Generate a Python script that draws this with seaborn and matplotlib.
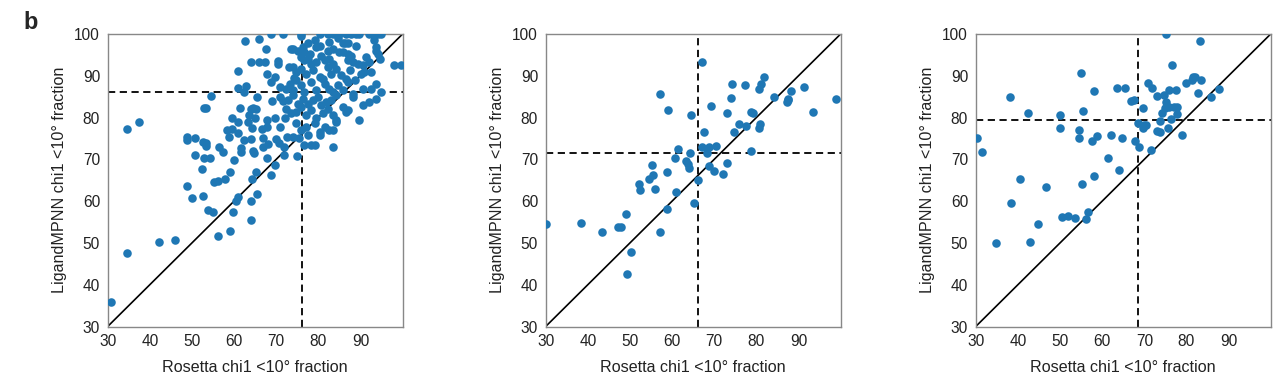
import matplotlib
matplotlib.use("Agg")
import matplotlib.pyplot as plt
import seaborn as sns

# panel 1 (many structures)
rosetta_a = [
    30.7, 34.5, 34.7, 37.5, 42.1, 46.0, 48.9, 48.8, 48.9, 50.0, 50.8, 50.8, 52.3, 52.6, 52.8, 53.3,
    52.7, 53.4, 53.4, 52.9, 54.4, 53.8, 55.1, 54.5, 55.3, 56.2, 56.2, 56.4, 57.4, 57.8, 58.2, 58.7,
    59.1, 59.0, 59.5, 59.6, 60.0, 59.7, 60.5, 61.0, 60.9, 61.0, 60.9, 61.0, 61.5, 61.7, 61.7, 62.3,
    62.9, 62.5, 63.6, 63.9, 64.0, 63.9, 64.2, 64.1, 64.2, 64.6, 64.8, 65.1, 65.5, 65.1, 65.4, 64.1,
    65.8, 67.3, 65.8, 67.5, 66.6, 66.8, 66.8, 67.7, 67.8, 68.1, 67.8, 67.9, 68.7, 68.8, 68.8, 69.6,
    69.7, 69.8, 69.1, 70.0, 70.4, 70.5, 70.6, 70.9, 71.6, 71.6, 71.8, 71.8, 72.1, 72.5, 73.0, 73.6,
    74.1, 74.9, 75.8, 76.3, 62.4, 64.6, 63.3, 65.0,
    75.9, 80.3, 82.2, 83.4, 85.0, 86.6, 87.8, 89.0, 89.7, 92.1, 92.9, 94.1, 94.9,
    77.5, 79.1, 80.3, 82.6, 84.6, 85.8, 86.2, 87.0, 89.0, 93.3, 93.7,
    74.0, 75.1, 76.7, 77.9, 79.5, 80.7, 82.2, 83.4, 85.0, 85.8, 87.0, 87.8, 91.3, 93.7, 94.1,
    75.9, 76.7, 77.5, 78.3, 79.5, 81.5, 82.6, 83.4, 87.0, 88.2, 89.4, 90.5, 92.1, 94.5, 98.0, 99.6,
    74.0, 74.8, 75.9, 77.1, 78.7, 80.3, 81.1, 82.2, 83.0, 84.2, 85.4, 86.6, 87.4, 88.6, 90.1, 90.9, 92.5,
    70.8, 72.2, 73.2, 74.0, 74.8, 75.9, 76.7, 78.3, 79.5, 81.5, 82.6, 83.4, 84.6, 85.8, 87.0, 88.2,
    90.5, 92.5, 93.7, 94.9,
    70.8, 72.8, 74.0, 75.1, 76.3, 77.5, 78.7, 79.9, 80.7, 81.9, 83.0, 84.2, 85.8, 87.0, 88.2, 90.5,
    92.1, 93.7,
    72.4, 73.6, 74.8, 75.9, 77.1, 78.3, 79.5, 81.1, 82.2, 83.4, 84.2, 86.6, 89.7,
    74.8, 75.9, 77.1, 79.1, 80.3, 81.5, 82.6, 83.4, 84.2,
    74.0, 75.5, 76.7, 77.5, 78.3, 79.1, 80.3, 83.4,
]
ligand_a = [
    35.9, 47.7, 77.3, 79.0, 50.1, 50.6, 63.7, 74.6, 75.3, 60.8, 75.0, 71.0, 67.7, 61.3, 82.3, 82.3,
    74.2, 73.8, 73.3, 70.3, 70.3, 57.9, 57.4, 85.2, 64.6, 64.8, 51.7, 73.0, 71.7, 65.3, 77.0, 75.4,
    66.9, 52.8, 77.2, 79.9, 69.8, 57.5, 60.1, 61.0, 91.1, 76.4, 87.1, 79.0, 82.2, 72.7, 71.7, 74.7,
    87.5, 98.4, 80.6, 82.1, 60.0, 55.6, 77.5, 74.9, 65.3, 72.0, 71.6, 66.9, 61.7, 82.1, 84.9, 93.3,
    93.3, 93.3, 98.8, 96.4, 77.3, 75.0, 73.0, 70.2, 90.5, 73.7, 79.4, 77.8, 66.3, 100.0, 88.5, 89.8,
    68.7, 79.8, 84.0, 74.8, 92.9, 93.5, 74.0, 77.8, 100.0, 84.0, 73.0, 71.1, 79.8, 75.4, 92.0, 96.4,
    89.4, 70.9, 99.6, 96.8, 86.0, 82.3, 78.9, 79.8,
    100.0, 100.0, 100.0, 100.0, 100.0, 100.0, 100.0, 100.0, 100.0, 100.0, 100.0, 100.0, 100.0,
    97.8, 98.6, 97.2, 98.0, 99.0, 97.8, 97.8, 97.8, 97.2, 98.6, 96.8,
    96.4, 96.0, 95.6, 95.2, 96.8, 94.8, 96.0, 96.4, 95.6, 95.6, 95.2, 94.8, 94.4, 96.0, 95.2,
    94.4, 93.7, 94.0, 92.9, 93.3, 93.7, 94.0, 92.9, 93.7, 93.3, 92.9, 92.5, 93.3, 94.0, 92.5, 92.5,
    92.1, 90.9, 91.7, 90.5, 91.3, 89.7, 89.3, 92.1, 90.5, 91.7, 90.1, 89.3, 91.3, 88.9, 90.5, 90.9, 90.9,
    87.3, 86.9, 88.1, 86.5, 88.9, 87.7, 86.1, 88.5, 86.5, 88.1, 86.9, 86.1, 87.7, 86.5, 88.5, 85.7,
    86.9, 86.9, 88.1, 86.1,
    84.9, 84.1, 85.3, 83.3, 84.5, 83.3, 84.1, 84.9, 82.9, 83.7, 84.1, 85.3, 82.5, 81.7, 84.9, 82.9,
    83.7, 84.5,
    82.1, 81.0, 81.3, 82.5, 80.6, 81.7, 79.8, 81.0, 82.1, 80.6, 79.4, 81.3, 79.4,
    78.6, 77.0, 77.8, 78.6, 76.6, 77.8, 77.0, 77.0, 79.0,
    75.4, 75.0, 73.4, 75.8, 73.4, 73.4, 75.8, 73.0,
]

# panel 2
rosetta_b = [
    30.0, 38.3, 43.3, 47.2, 47.9, 49.1, 49.2, 50.2, 52.2, 52.5, 54.6, 55.3, 55.5, 55.9, 57.1, 57.2,
    58.8, 58.8, 59.1, 60.7, 60.9, 61.3, 63.3, 63.8, 64.0, 64.2, 64.5, 65.3, 66.1, 67.2, 67.2, 67.6,
    68.3, 68.7, 68.8, 69.3, 70.0, 70.3, 72.1, 73.0, 73.1, 74.0, 74.3, 74.7, 75.9, 77.4, 77.6, 78.8,
    78.8, 79.3, 80.5, 80.7, 80.9, 81.1, 81.9, 84.1, 87.2, 87.5, 87.6, 88.1, 91.2, 93.5, 98.8,
]
ligand_b = [
    54.5, 54.7, 52.7, 53.8, 53.9, 56.8, 42.6, 47.8, 64.2, 62.6, 65.4, 68.7, 66.2, 63.0, 85.7, 52.7,
    67.0, 58.0, 81.8, 70.2, 62.1, 72.5, 69.6, 68.8, 68.0, 71.4, 80.5, 59.6, 65.0, 93.3, 73.0, 76.5,
    71.6, 73.0, 68.4, 82.7, 67.1, 73.2, 66.4, 81.0, 69.0, 84.7, 88.1, 76.5, 78.5, 87.7, 78.0, 72.1,
    81.4, 81.1, 77.6, 86.8, 78.5, 88.1, 89.8, 85.0, 83.8, 84.2, 84.4, 86.3, 87.2, 81.2, 84.4,
]

# panel 3
rosetta_c = [
    30.4, 31.6, 34.8, 38.1, 38.4, 40.5, 42.3, 42.8, 44.7, 46.7, 49.9, 49.9, 50.5, 51.9, 53.6, 54.5,
    54.6, 55.0, 55.1, 55.5, 56.1, 56.7, 57.7, 58.0, 58.1, 58.7, 61.3, 62.2, 63.4, 64.1, 64.8, 65.4,
    66.9, 67.5, 67.8, 68.4, 68.8, 69.6, 69.7, 70.0, 70.4, 70.8, 71.6, 71.9, 72.9, 73.1, 73.8, 73.7,
    74.3, 74.7, 74.9, 75.1, 75.2, 75.5, 75.8, 75.9, 76.4, 76.5, 77.1, 77.6, 77.7, 77.7, 79.0, 80.0,
    81.4, 81.6, 82.1, 82.7, 83.2, 83.5, 85.8, 87.7,
]
ligand_c = [
    75.0, 71.8, 49.9, 85.0, 59.6, 65.2, 81.0, 50.3, 54.5, 63.4, 80.5, 77.6, 56.2, 56.4, 55.9, 77.0,
    75.0, 90.6, 64.2, 81.5, 55.7, 57.4, 74.3, 66.0, 86.4, 75.6, 70.2, 75.7, 87.0, 67.4, 75.2, 87.0,
    83.9, 84.2, 74.3, 78.6, 73.0, 77.6, 82.2, 78.1, 78.2, 88.2, 72.3, 87.0, 85.2, 76.7, 76.6, 79.2,
    81.0, 85.4, 82.2, 100.0, 83.6, 77.4, 86.6, 82.6, 79.7, 92.6, 82.5, 86.6, 80.8, 82.6, 75.7, 88.2,
    89.0, 89.8, 89.7, 85.9, 98.2, 89.0, 84.9, 86.9,
]

# median reference lines (x, y) per panel
medians = [(76.0, 86.1), (66.2, 71.4), (68.6, 79.3)]

sns.set_style("white")
plt.rcParams["font.family"] = ["Liberation Sans", "DejaVu Sans"]

fig = plt.figure(figsize=(12.8, 3.81), dpi=100)
lefts = [0.0841, 0.4263, 0.7623]
panels = [(rosetta_a, ligand_a), (rosetta_b, ligand_b), (rosetta_c, ligand_c)]

for left, (xs, ys), (mx, my) in zip(lefts, panels, medians):
    ax = fig.add_axes([left, 0.143, 0.2305, 0.768])
    ax.plot([30, 100], [30, 100], color="black", lw=1.2, zorder=1)
    ax.axvline(mx, color="black", ls=(0, (4, 2.5)), lw=1.3, zorder=1)
    ax.axhline(my, color="black", ls=(0, (4, 2.5)), lw=1.3, zorder=1)
    sns.scatterplot(x=xs, y=ys, ax=ax, color="#1f77b4", s=38, linewidth=0, zorder=3)
    ax.set_xlim(30, 100)
    ax.set_ylim(30, 100)
    ax.set_xticks([30, 40, 50, 60, 70, 80, 90])
    ax.set_yticks([30, 40, 50, 60, 70, 80, 90, 100])
    ax.tick_params(direction="out", length=3, width=0.8, color="#888888",
                   labelsize=11.2, labelcolor="#222222", pad=2.5)
    for sp in ax.spines.values():
        sp.set_color("#888888")
        sp.set_linewidth(1.0)
    ax.set_xlabel("Rosetta chi1 <10° fraction", fontsize=11.6, color="#222222", labelpad=8)
    ax.set_ylabel("LigandMPNN chi1 <10° fraction", fontsize=11.6, color="#222222", labelpad=5)

fig.text(0.018, 0.925, "b", fontsize=17, fontweight="bold")
fig.savefig("out.png", dpi=100)
